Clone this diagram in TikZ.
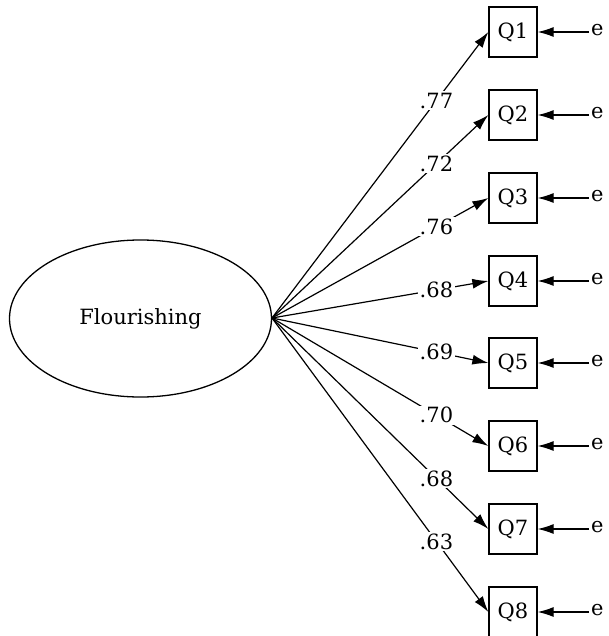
\documentclass[tikz,border=0pt]{standalone}
\usepackage{fontspec}
\setmainfont{DejaVu Serif}
\usetikzlibrary{arrows.meta,shapes.geometric}
\begin{document}
\begin{tikzpicture}[x=1pt,y=-1pt,
  every node/.style={font=\fontsize{21}{25}\selectfont},
  item/.style={draw,line width=1.3pt,minimum width=48pt,minimum height=50pt,inner sep=0pt},
  err/.style={inner sep=0pt},
  load/.style={line width=1.2pt,-{Latex[length=16pt,width=10pt]}},
  lab/.style={fill=white,inner sep=1.5pt,pos=0.76}]
\useasboundingbox (0,0) rectangle (608,636);
\node[draw,ellipse,line width=1.3pt,minimum width=262pt,minimum height=157pt,inner sep=0pt] (F) at (140.5,318.5) {Flourishing};
\coordinate (Fe) at (272,318);
\foreach \i/\y/\v in {1/32/.77,2/115/.72,3/198/.76,4/281/.68,5/363/.69,6/446/.70,7/529/.68,8/612/.63}{
  \node[item] (Q\i) at (513,\y) {Q\i};
  \node[err,anchor=west] (e\i) at (591,\y-2) {e};
  \draw[load] ([xshift=-2pt,yshift=-2pt]e\i.west) -- (Q\i.east);
  \draw[load] (Fe) -- node[lab] {\v} (Q\i.west);
}
\end{tikzpicture}
\end{document}
